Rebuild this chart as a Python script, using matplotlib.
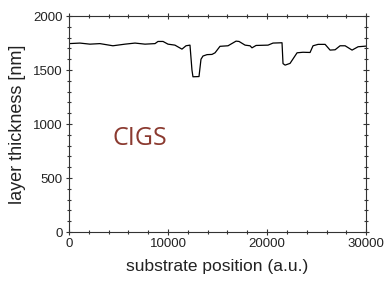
import matplotlib
matplotlib.use("Agg")
import matplotlib.pyplot as plt
from matplotlib.ticker import MultipleLocator

# substrate position (a.u.) and layer thickness (nm)
position = [0, 1110, 2120, 3130, 4440, 5660, 6670, 7680, 8690, 8990, 9500, 10000,
            10700, 11410, 11820, 12220, 12420, 12520, 13130, 13330, 13530, 13940,
            14440, 14750, 15250, 16060, 16870, 17170, 17780, 18280, 18480, 18890,
            20100, 20600, 21510, 21610, 21820, 22320, 23030, 23630, 24340, 24640,
            25150, 25860, 26360, 26870, 27370, 27880, 28580, 29190, 30000]
thickness = [1745, 1750, 1740, 1745, 1725, 1740, 1750, 1740, 1745, 1765, 1765, 1740,
             1731, 1694, 1725, 1731, 1500, 1438, 1440, 1600, 1630, 1643,
             1645, 1660, 1720, 1725, 1768, 1765, 1731, 1725, 1706, 1728,
             1731, 1750, 1753, 1560, 1546, 1562, 1660, 1665, 1663, 1725,
             1738, 1738, 1685, 1688, 1725, 1725, 1685, 1716, 1722]

plt.rcParams['font.family'] = ['Liberation Sans', 'DejaVu Sans']

fig = plt.figure(figsize=(3.85, 2.82), dpi=100)
ax = fig.add_axes([0.179, 0.177, 0.772, 0.766])

ax.plot(position, thickness, color='black', linewidth=0.9)

ax.set_xlim(0, 30000)
ax.set_ylim(0, 2000)
ax.xaxis.set_major_locator(MultipleLocator(10000))
ax.xaxis.set_minor_locator(MultipleLocator(2000))
ax.yaxis.set_major_locator(MultipleLocator(500))
ax.yaxis.set_minor_locator(MultipleLocator(100))
ax.tick_params(which='both', direction='inout', top=True, right=True,
               labelsize=9.5, width=0.8, color='#333333', labelcolor='#222222')
ax.tick_params(which='major', length=5, pad=2)
ax.tick_params(which='minor', length=3)
for s in ax.spines.values():
    s.set_linewidth(0.8)
    s.set_color('#333333')

ax.set_xlabel('substrate position (a.u.)', fontsize=12.5, labelpad=6, color='#222222')
ax.set_ylabel('layer thickness [nm]', fontsize=13, labelpad=5, color='#222222')

ax.text(4400, 810, 'CIGS', color='#8b3a30', fontsize=18, family=['Open Sans', 'DejaVu Sans'])

fig.savefig('out.png', dpi=100)
